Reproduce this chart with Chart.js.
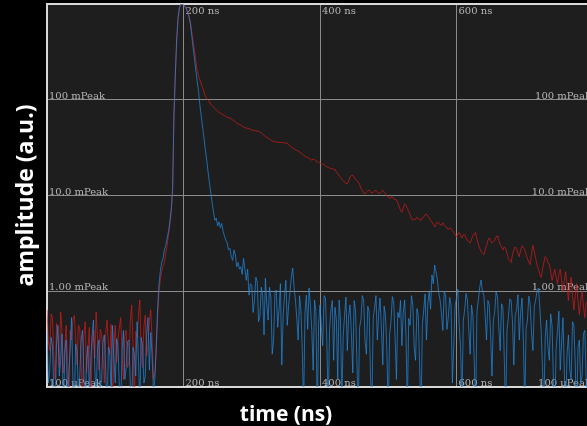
<!DOCTYPE html>
<html>
<head>
<meta charset="utf-8">
<script src="https://cdn.jsdelivr.net/npm/chart.js@4"></script>
<style>
  html, body { margin: 0; padding: 0; background: #000; overflow: hidden; }
  #wrap { width: 600px; height: 426px; }
</style>
</head>
<body>
<div id="wrap"><canvas id="decayChart" width="600" height="426"></canvas></div>
<script>
// time axis (ns), one sample every 2 ns
const times = [
  0, 2, 4, 6, 8, 10, 12, 14, 16, 18, 20, 22, 24, 26, 28, 30, 32, 34, 36, 38,
  40, 42, 44, 46, 48, 50, 52, 54, 56, 58, 60, 62, 64, 66, 68, 70, 72, 74, 76, 78,
  80, 82, 84, 86, 88, 90, 92, 94, 96, 98, 100, 102, 104, 106, 108, 110, 112, 114, 116, 118,
  120, 122, 124, 126, 128, 130, 132, 134, 136, 138, 140, 142, 144, 146, 148, 150, 152, 154, 156, 158,
  160, 162, 164, 166, 168, 170, 172, 174, 176, 178, 180, 182, 184, 186, 188, 190, 192, 194, 196, 198,
  200, 202, 204, 206, 208, 210, 212, 214, 216, 218, 220, 222, 224, 226, 228, 230, 232, 234, 236, 238,
  240, 242, 244, 246, 248, 250, 252, 254, 256, 258, 260, 262, 264, 266, 268, 270, 272, 274, 276, 278,
  280, 282, 284, 286, 288, 290, 292, 294, 296, 298, 300, 302, 304, 306, 308, 310, 312, 314, 316, 318,
  320, 322, 324, 326, 328, 330, 332, 334, 336, 338, 340, 342, 344, 346, 348, 350, 352, 354, 356, 358,
  360, 362, 364, 366, 368, 370, 372, 374, 376, 378, 380, 382, 384, 386, 388, 390, 392, 394, 396, 398,
  400, 402, 404, 406, 408, 410, 412, 414, 416, 418, 420, 422, 424, 426, 428, 430, 432, 434, 436, 438,
  440, 442, 444, 446, 448, 450, 452, 454, 456, 458, 460, 462, 464, 466, 468, 470, 472, 474, 476, 478,
  480, 482, 484, 486, 488, 490, 492, 494, 496, 498, 500, 502, 504, 506, 508, 510, 512, 514, 516, 518,
  520, 522, 524, 526, 528, 530, 532, 534, 536, 538, 540, 542, 544, 546, 548, 550, 552, 554, 556, 558,
  560, 562, 564, 566, 568, 570, 572, 574, 576, 578, 580, 582, 584, 586, 588, 590, 592, 594, 596, 598,
  600, 602, 604, 606, 608, 610, 612, 614, 616, 618, 620, 622, 624, 626, 628, 630, 632, 634, 636, 638,
  640, 642, 644, 646, 648, 650, 652, 654, 656, 658, 660, 662, 664, 666, 668, 670, 672, 674, 676, 678,
  680, 682, 684, 686, 688, 690, 692, 694, 696, 698, 700, 702, 704, 706, 708, 710, 712, 714, 716, 718,
  720, 722, 724, 726, 728, 730, 732, 734, 736, 738, 740, 742, 744, 746, 748, 750, 752, 754, 756, 758,
  760, 762, 764, 766, 768, 770, 772, 774, 776, 778, 780, 782, 784, 786, 788, 790, 792, 794, 796, 798
];

// fast trace (blue), normalised to peak
const blueSignal = [
  3.9e-4, 1.1e-4, 1.5e-4, 3.3e-4, 2.7e-4, 9e-5, 6e-5, 2.9e-4, 4.4e-4, 1.3e-4, 1.9e-4, 3.6e-4, 5e-5, 2.2e-4, 3.1e-4, 7e-5, 1.4e-4, 2.5e-4, 5.3e-4, 1.2e-4,
  7e-5, 2.8e-4, 2.4e-4, 8e-5, 1.3e-4, 3.0e-4, 3.9e-4, 1.4e-4, 5e-5, 2.0e-4, 2.7e-4, 9e-5, 1.7e-4, 3.4e-4, 5.0e-4, 1.6e-4, 8e-5, 2.6e-4, 3.1e-4, 1.0e-4,
  1.2e-4, 2.9e-4, 3.5e-4, 1.5e-4, 5e-5, 2.6e-4, 2.3e-4, 8e-5, 4.4e-4, 2.0e-4, 1.1e-4, 3.2e-4, 2.7e-4, 1.0e-4, 6e-5, 2.4e-4, 3.9e-4, 1.2e-4, 1.6e-4, 3.0e-4,
  3.1e-4, 1.1e-4, 5e-5, 2.6e-4, 2.2e-4, 1.3e-4, 4.8e-4, 1.9e-4, 7e-5, 3.3e-4, 2.7e-4, 1.1e-4, 1.3e-4, 3.6e-4, 5.3e-4, 1.5e-4, 3.7e-4, 2.1e-4, 9e-5, 1.2e-4,
  2.7e-4, 6.4e-4, 1.16e-3, 1.6e-3, 2.0e-3, 2.2e-3, 2.7e-3, 3.0e-3, 3.6e-3, 4.2e-3, 5.3e-3, 7.1e-3, 0.0114, 0.069, 0.18, 0.42, 0.71, 0.91, 1.0, 0.99,
  0.976, 0.94, 0.89, 0.81, 0.73, 0.63, 0.475, 0.355, 0.27, 0.205, 0.157, 0.123, 0.088, 0.068, 0.052, 0.04, 0.030, 0.0234, 0.0176, 0.0135,
  0.0106, 0.0084, 0.0067, 0.0055, 0.0058, 0.0048, 0.0053, 0.0046, 0.0051, 0.0042, 0.0038, 0.0034, 0.0032, 0.0027, 0.0028, 0.0023, 0.0021, 0.0027, 0.0024, 0.0018,
  0.002, 0.0017, 0.0018, 0.0015, 0.0022, 0.0017, 0.0013, 0.0017, 9.1e-4, 1.2e-3, 1.16e-3, 6.0e-4, 8.1e-4, 1.4e-3, 1.25e-3, 4.8e-4, 5.6e-4, 1.1e-3, 9.1e-4, 3.5e-4,
  1.37e-3, 7.5e-4, 5.0e-4, 1.1e-3, 8.5e-4, 2.2e-4, 3.1e-4, 9.5e-4, 1.03e-3, 4.2e-4, 6.4e-4, 1.2e-3, 1.7e-4, 5.5e-4, 8.9e-4, 1.3e-3, 4.4e-4, 7.0e-4, 9.8e-4, 1.4e-3,
  1.75e-3, 1.1e-3, 8.1e-4, 5.2e-4, 3.1e-4, 9.0e-4, 6.4e-4, 2.5e-4, 6e-5, 6.0e-4, 9.1e-4, 4.0e-4, 1.08e-3, 7.0e-4, 3.9e-4, 1.5e-4, 8.1e-4, 6.2e-4, 5e-5, 4.6e-4,
  7.2e-4, 4.3e-4, 2.7e-4, 9.0e-4, 8.5e-4, 3.0e-4, 6e-5, 4.0e-4, 6.4e-4, 8.0e-4, 1.9e-4, 6.8e-4, 5.0e-4, 1.2e-4, 8.1e-4, 5.0e-4, 7e-5, 3.4e-4, 5.6e-4, 8.7e-4,
  2.4e-4, 5.5e-4, 7.2e-4, 3.6e-4, 1.4e-4, 8.0e-4, 6.4e-4, 2.0e-4, 5e-5, 4.2e-4, 5.0e-4, 9.0e-4, 8.1e-4, 3.0e-4, 2.2e-4, 7.0e-4, 6.1e-4, 1.3e-4, 6e-5, 5.2e-4,
  6.7e-4, 9.0e-4, 3.1e-4, 5.8e-4, 8.5e-4, 4.0e-4, 1.7e-4, 7.0e-4, 5.6e-4, 2.4e-4, 5e-5, 3.6e-4, 4.8e-4, 8.8e-4, 7.7e-4, 3.3e-4, 1.2e-4, 6.0e-4, 5.3e-4, 8.0e-4,
  2.7e-4, 6.0e-4, 8.1e-4, 3.4e-4, 6e-5, 5.2e-4, 4.4e-4, 9.0e-4, 7.2e-4, 2.6e-4, 1.9e-4, 6.6e-4, 5.6e-4, 1.6e-4, 5e-5, 4.5e-4, 6.4e-4, 9.4e-4, 3.1e-4, 7.5e-4,
  9.8e-4, 6.5e-4, 1.48e-3, 1.2e-3, 1.88e-3, 1.6e-3, 1.31e-3, 9.5e-4, 8.1e-4, 5.8e-4, 3.9e-4, 1.0e-3, 9.1e-4, 4.0e-4, 5.3e-4, 8.6e-4, 7.2e-4, 1.1e-4, 2.7e-4, 7.0e-4,
  8.5e-4, 1.05e-3, 4.4e-4, 2.6e-4, 7e-5, 5.0e-4, 6.4e-4, 9.5e-4, 8.1e-4, 4.0e-4, 2.2e-4, 7.2e-4, 5.6e-4, 1.8e-4, 6e-5, 6.2e-4, 8.1e-4, 1.1e-3, 1.31e-3, 1.0e-3,
  9.1e-4, 5.6e-4, 3.1e-4, 8.0e-4, 7.2e-4, 3.5e-4, 1.3e-4, 4.9e-4, 6.1e-4, 9.8e-4, 8.9e-4, 4.2e-4, 2.4e-4, 7.4e-4, 6.7e-4, 2.0e-4, 5e-5, 3.9e-4, 5.3e-4, 8.3e-4,
  8.1e-4, 4.8e-4, 1.7e-4, 5.6e-4, 6.4e-4, 9.2e-4, 3.1e-4, 6.0e-4, 8.5e-4, 3.0e-4, 6e-5, 4.1e-4, 5.0e-4, 8.9e-4, 7.2e-4, 3.6e-4, 2.4e-4, 6.9e-4, 8.1e-4, 1.0e-3,
  1.08e-3, 7.0e-4, 3.9e-4, 1.6e-4, 6e-5, 3.3e-4, 5.0e-4, 2.6e-4, 1.9e-4, 5.8e-4, 4.4e-4, 1.2e-4, 5e-5, 2.5e-4, 3.9e-4, 6.2e-4, 1.5e-4, 2.9e-4, 5.3e-4, 1.4e-4,
  6e-5, 2.2e-4, 3.5e-4, 1.5e-4, 1.2e-4, 4.8e-4, 4.4e-4, 1.7e-4, 5e-5, 2.6e-4, 3.1e-4, 1.1e-4, 1.3e-4, 3.6e-4, 3.9e-4, 1.2e-4, 6e-5, 2.4e-4, 2.7e-4, 1.5e-4
];

// slow trace (red), normalised to peak
const redSignal = [
  6.4e-4, 3.0e-4, 2.4e-4, 5.8e-4, 5.3e-4, 2.0e-4, 1.2e-4, 4.6e-4, 3.5e-4, 1.6e-4, 6.1e-4, 3.8e-4, 1.4e-4, 2.6e-4, 4.4e-4, 2.1e-4, 6e-5, 3.9e-4, 3.1e-4, 5.0e-4,
  5.6e-4, 3.2e-4, 1.7e-4, 4.4e-4, 4.1e-4, 1.9e-4, 7e-5, 3.6e-4, 4.8e-4, 1.4e-4, 2.5e-4, 4.2e-4, 5e-5, 2.7e-4, 3.9e-4, 2.0e-4, 6.1e-4, 3.3e-4, 1.5e-4, 4.0e-4,
  3.5e-4, 2.3e-4, 1.1e-4, 3.7e-4, 5.0e-4, 2.8e-4, 2.2e-4, 4.5e-4, 5e-5, 2.6e-4, 4.4e-4, 1.8e-4, 3.1e-4, 4.1e-4, 5.3e-4, 2.2e-4, 1.2e-4, 3.4e-4, 3.9e-4, 1.6e-4,
  1.8e-4, 4.7e-4, 7.2e-4, 2.9e-4, 6e-5, 3.8e-4, 3.3e-4, 5.5e-4, 8.1e-4, 2.4e-4, 1.6e-4, 4.3e-4, 5.6e-4, 2.1e-4, 2.7e-4, 4.9e-4, 6.4e-4, 3.1e-4, 1.2e-4, 1.4e-4,
  2.2e-4, 5.2e-4, 9.8e-4, 1.3e-3, 1.6e-3, 1.8e-3, 2.0e-3, 2.5e-3, 3.0e-3, 3.9e-3, 4.9e-3, 6.8e-3, 0.0114, 0.069, 0.18, 0.42, 0.71, 0.91, 1.0, 0.99,
  0.976, 0.95, 0.91, 0.84, 0.76, 0.65, 0.52, 0.41, 0.33, 0.26, 0.2, 0.178, 0.161, 0.146, 0.133, 0.12, 0.109, 0.104, 0.100, 0.095,
  0.090, 0.087, 0.084, 0.081, 0.078, 0.076, 0.074, 0.0725, 0.071, 0.0695, 0.0685, 0.067, 0.0653, 0.065, 0.0645, 0.063, 0.0615, 0.060, 0.0586, 0.057,
  0.0558, 0.055, 0.0544, 0.053, 0.0519, 0.0512, 0.0506, 0.0503, 0.050, 0.049, 0.0483, 0.048, 0.0477, 0.0475, 0.0472, 0.0466, 0.046, 0.045, 0.0438, 0.0425,
  0.0413, 0.0405, 0.0399, 0.039, 0.038, 0.0372, 0.0367, 0.0364, 0.0362, 0.036, 0.0358, 0.0358, 0.0358, 0.0356, 0.0354, 0.0352, 0.035, 0.034, 0.0329, 0.032,
  0.0313, 0.0306, 0.030, 0.0296, 0.0292, 0.0285, 0.0279, 0.027, 0.0263, 0.0257, 0.0252, 0.0248, 0.0244, 0.0238, 0.0234, 0.0240, 0.0238, 0.023, 0.0226, 0.0222,
  0.0218, 0.0214, 0.0213, 0.021, 0.0204, 0.0199, 0.0197, 0.0194, 0.019, 0.0192, 0.0185, 0.0188, 0.0176, 0.017, 0.016, 0.0155, 0.0148, 0.0143, 0.0138, 0.0133,
  0.0134, 0.0142, 0.0156, 0.0162, 0.0163, 0.0156, 0.0148, 0.0142, 0.0138, 0.013, 0.012, 0.0112, 0.0106, 0.0104, 0.0109, 0.0112, 0.0114, 0.011, 0.0106, 0.0108,
  0.0111, 0.0113, 0.0109, 0.0105, 0.0106, 0.011, 0.0114, 0.0108, 0.0104, 0.0099, 0.0096, 0.0094, 0.0095, 0.0097, 0.0092, 0.0091, 0.009, 0.0084, 0.0076, 0.007,
  0.0067, 0.0074, 0.0082, 0.0079, 0.0073, 0.0068, 0.0063, 0.0058, 0.0055, 0.0057, 0.0056, 0.0059, 0.0058, 0.0056, 0.0055, 0.0058, 0.006, 0.0063, 0.0064, 0.0061,
  0.0058, 0.0055, 0.0053, 0.005, 0.0047, 0.005, 0.0053, 0.0051, 0.005, 0.0049, 0.0052, 0.0049, 0.0047, 0.0046, 0.0044, 0.0046, 0.0045, 0.0043, 0.0041, 0.0039,
  0.0037, 0.004, 0.0041, 0.0038, 0.0036, 0.0039, 0.0039, 0.0036, 0.0034, 0.0033, 0.0032, 0.0035, 0.0038, 0.004, 0.0041, 0.0035, 0.0031, 0.0028, 0.0026, 0.0025,
  0.0024, 0.0027, 0.003, 0.0034, 0.0036, 0.0034, 0.0032, 0.0033, 0.0034, 0.0037, 0.0038, 0.0034, 0.0031, 0.0029, 0.0027, 0.0029, 0.0028, 0.0025, 0.0022, 0.0021,
  0.002, 0.0024, 0.0027, 0.0029, 0.0028, 0.0025, 0.0023, 0.0027, 0.003, 0.0029, 0.0027, 0.0024, 0.0022, 0.002, 0.0019, 0.0025, 0.003, 0.0026, 0.0022, 0.0019,
  0.0017, 0.0015, 0.0014, 0.0017, 0.002, 0.0023, 0.0022, 0.002, 0.0019, 0.0016, 0.0013, 0.0015, 0.0017, 0.0014, 0.0012, 0.0015, 0.0017, 0.0013, 0.001, 0.0013,
  0.0016, 0.0011, 8e-4, 0.0011, 0.0014, 9e-4, 6.4e-4, 9e-4, 0.0012, 8e-4, 5.7e-4, 8e-4, 0.001, 7e-4, 5.3e-4, 7.5e-4, 8e-4, 5.5e-4, 6e-4, 7e-4
];

// tick values and their in-plot labels
const xTicks = [0, 200, 400, 600, 800];
const xTickLabels = ['0 ns', '200 ns', '400 ns', '600 ns', '800 ns'];
const yTicks = [1e-4, 1e-3, 1e-2, 1e-1, 1];
const yTickLabels = ['100 µPeak', '1.00 mPeak', '10.0 mPeak', '100 mPeak', '1.00 Peak'];

const xTitle = 'time (ns)';
const yTitle = 'amplitude (a.u.)';

function toPoints(values) {
  return times.map((t, i) => ({ x: t, y: values[i] }));
}

// plot background, top frame line and labels drawn inside the plot
const plotDecor = {
  id: 'plotDecor',
  beforeDraw(chart) {
    const { ctx, chartArea: a } = chart;
    ctx.save();
    ctx.fillStyle = '#1e1e1e';
    ctx.fillRect(a.left, a.top, a.right - a.left, a.bottom - a.top);
    ctx.restore();
  },
  beforeDatasetsDraw(chart) {
    const { ctx, chartArea: a, scales } = chart;
    ctx.save();
    ctx.strokeStyle = '#d8d8d8';
    ctx.lineWidth = 2;
    ctx.beginPath();
    ctx.moveTo(a.left - 1, a.top);
    ctx.lineTo(a.right, a.top);
    ctx.stroke();

    ctx.font = '10px "DejaVu Serif"';
    ctx.fillStyle = '#b4b4b4';
    ctx.textBaseline = 'alphabetic';
    yTicks.forEach((v, i) => {
      if (v === scales.y.max) return;
      const py = scales.y.getPixelForValue(v) - 1;
      ctx.textAlign = 'left';
      ctx.fillText(yTickLabels[i], a.left + 2, py);
      ctx.textAlign = 'right';
      ctx.fillText(yTickLabels[i], a.right - 2, py);
    });
    ctx.textAlign = 'left';
    xTicks.forEach((v, i) => {
      if (v === scales.x.min || v === scales.x.max) return;
      const px = scales.x.getPixelForValue(v) + 2;
      ctx.fillText(xTickLabels[i], px, a.top + 9.5);
      ctx.fillText(xTickLabels[i], px, a.bottom - 1);
    });
    ctx.restore();
  },
  afterDraw(chart) {
    const { ctx, chartArea: a } = chart;
    ctx.save();
    ctx.fillStyle = '#ffffff';
    ctx.font = 'bold 21px "Open Sans"';
    ctx.textAlign = 'center';
    ctx.textBaseline = 'alphabetic';
    ctx.fillText(xTitle, 286, 421);
    ctx.translate(33, (a.top + a.bottom) / 2);
    ctx.rotate(-Math.PI / 2);
    ctx.font = 'bold 23px "Open Sans"';
    ctx.fillText(yTitle, 0, 0);
    ctx.restore();
  }
};

const ctx = document.getElementById('decayChart').getContext('2d');
new Chart(ctx, {
  type: 'line',
  data: {
    datasets: [
      {
        label: 'fast',
        data: toPoints(blueSignal),
        borderColor: '#1e8ce8',
        borderWidth: 0.7,
        pointRadius: 0,
        tension: 0
      },
      {
        label: 'slow',
        data: toPoints(redSignal),
        borderColor: '#d81a1a',
        borderWidth: 0.7,
        pointRadius: 0,
        tension: 0
      }
    ]
  },
  options: {
    responsive: false,
    animation: false,
    devicePixelRatio: 1,
    layout: { padding: { left: 47, top: 4, right: 7, bottom: 39 } },
    plugins: { legend: { display: false }, tooltip: { enabled: false } },
    scales: {
      x: {
        type: 'linear',
        min: 0,
        max: 800,
        afterBuildTicks: s => { s.ticks = xTicks.map(v => ({ value: v })); },
        ticks: { display: false },
        grid: { color: '#8a8a8a', lineWidth: 1, drawTicks: false },
        border: { display: true, color: '#d8d8d8', width: 2 }
      },
      y: {
        type: 'logarithmic',
        min: 1e-4,
        max: 1,
        afterBuildTicks: s => { s.ticks = yTicks.map(v => ({ value: v })); },
        ticks: { display: false },
        grid: { color: '#8a8a8a', lineWidth: 1, drawTicks: false },
        border: { display: true, color: '#d8d8d8', width: 2 }
      }
    }
  },
  plugins: [plotDecor]
});
</script>
</body>
</html>
